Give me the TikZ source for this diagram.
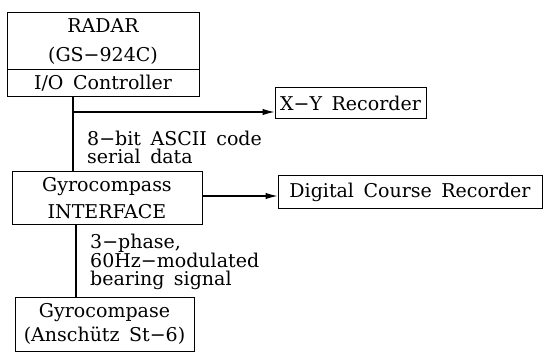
\documentclass[tikz,border=0pt]{standalone}
\usepackage{fontspec}
\setmainfont{DejaVu Serif}
\usetikzlibrary{arrows.meta}
\begin{document}
\begin{tikzpicture}[x=1pt,y=-1pt,
  box/.style={draw,line width=1pt,inner sep=0pt,align=center,
    font=\fontsize{19}{27}\selectfont},
  lbl/.style={anchor=north west,inner sep=0pt,align=left,
    font=\fontsize{19}{18}\selectfont},
  link/.style={line width=1.1pt},
  feed/.style={link,-{Latex[length=12pt,width=6.5pt]}}]
\useasboundingbox (0,0) rectangle (543,355);

% radar unit, split into display part and I/O controller
\node[box,minimum width=192pt,minimum height=57pt] (radar) at (103,41.5)
  {RADAR\\[2pt](GS−924C)};
\node[box,minimum width=192pt,minimum height=27pt] (io) at (103,83.5)
  {I/O\enspace Controller};

% recorders
\node[box,minimum width=151pt,minimum height=31pt] (xy) at (350.5,103.5)
  {X−Y\enspace Recorder};
\node[box,minimum width=264pt,minimum height=33pt] (dcr) at (410,192)
  {Digital\enspace Course\enspace Recorder};

% interface and gyrocompass
\node[box,minimum width=190pt,minimum height=53pt] (gi) at (107,198)
  {Gyrocompass\\INTERFACE};
\node[box,minimum width=179pt,minimum height=54pt] (gc) at (104.5,324)
  {Gyrocompase\\[-3pt](Anschütz\enspace St−6)};

% connectors
\coordinate (tap) at (73,112);
\coordinate (down) at (76,0);
\draw[link] (io.south -| tap) -- (gi.north -| tap);
\draw[feed] (tap) -- (xy.west |- tap);
\draw[feed] (gi.east |- 0,196) -- (dcr.west |- 0,196);
\draw[link] (gi.south -| down) -- (gc.north -| down);

% signal labels
\node[lbl] (ascii) at (87,130.5) {8−bit\enspace ASCII\enspace code\\serial\enspace data};
\node[lbl] (bearing) at (90,233.5) {3−phase,\\60Hz−modulated\\bearing\enspace signal};
\end{tikzpicture}
\end{document}
